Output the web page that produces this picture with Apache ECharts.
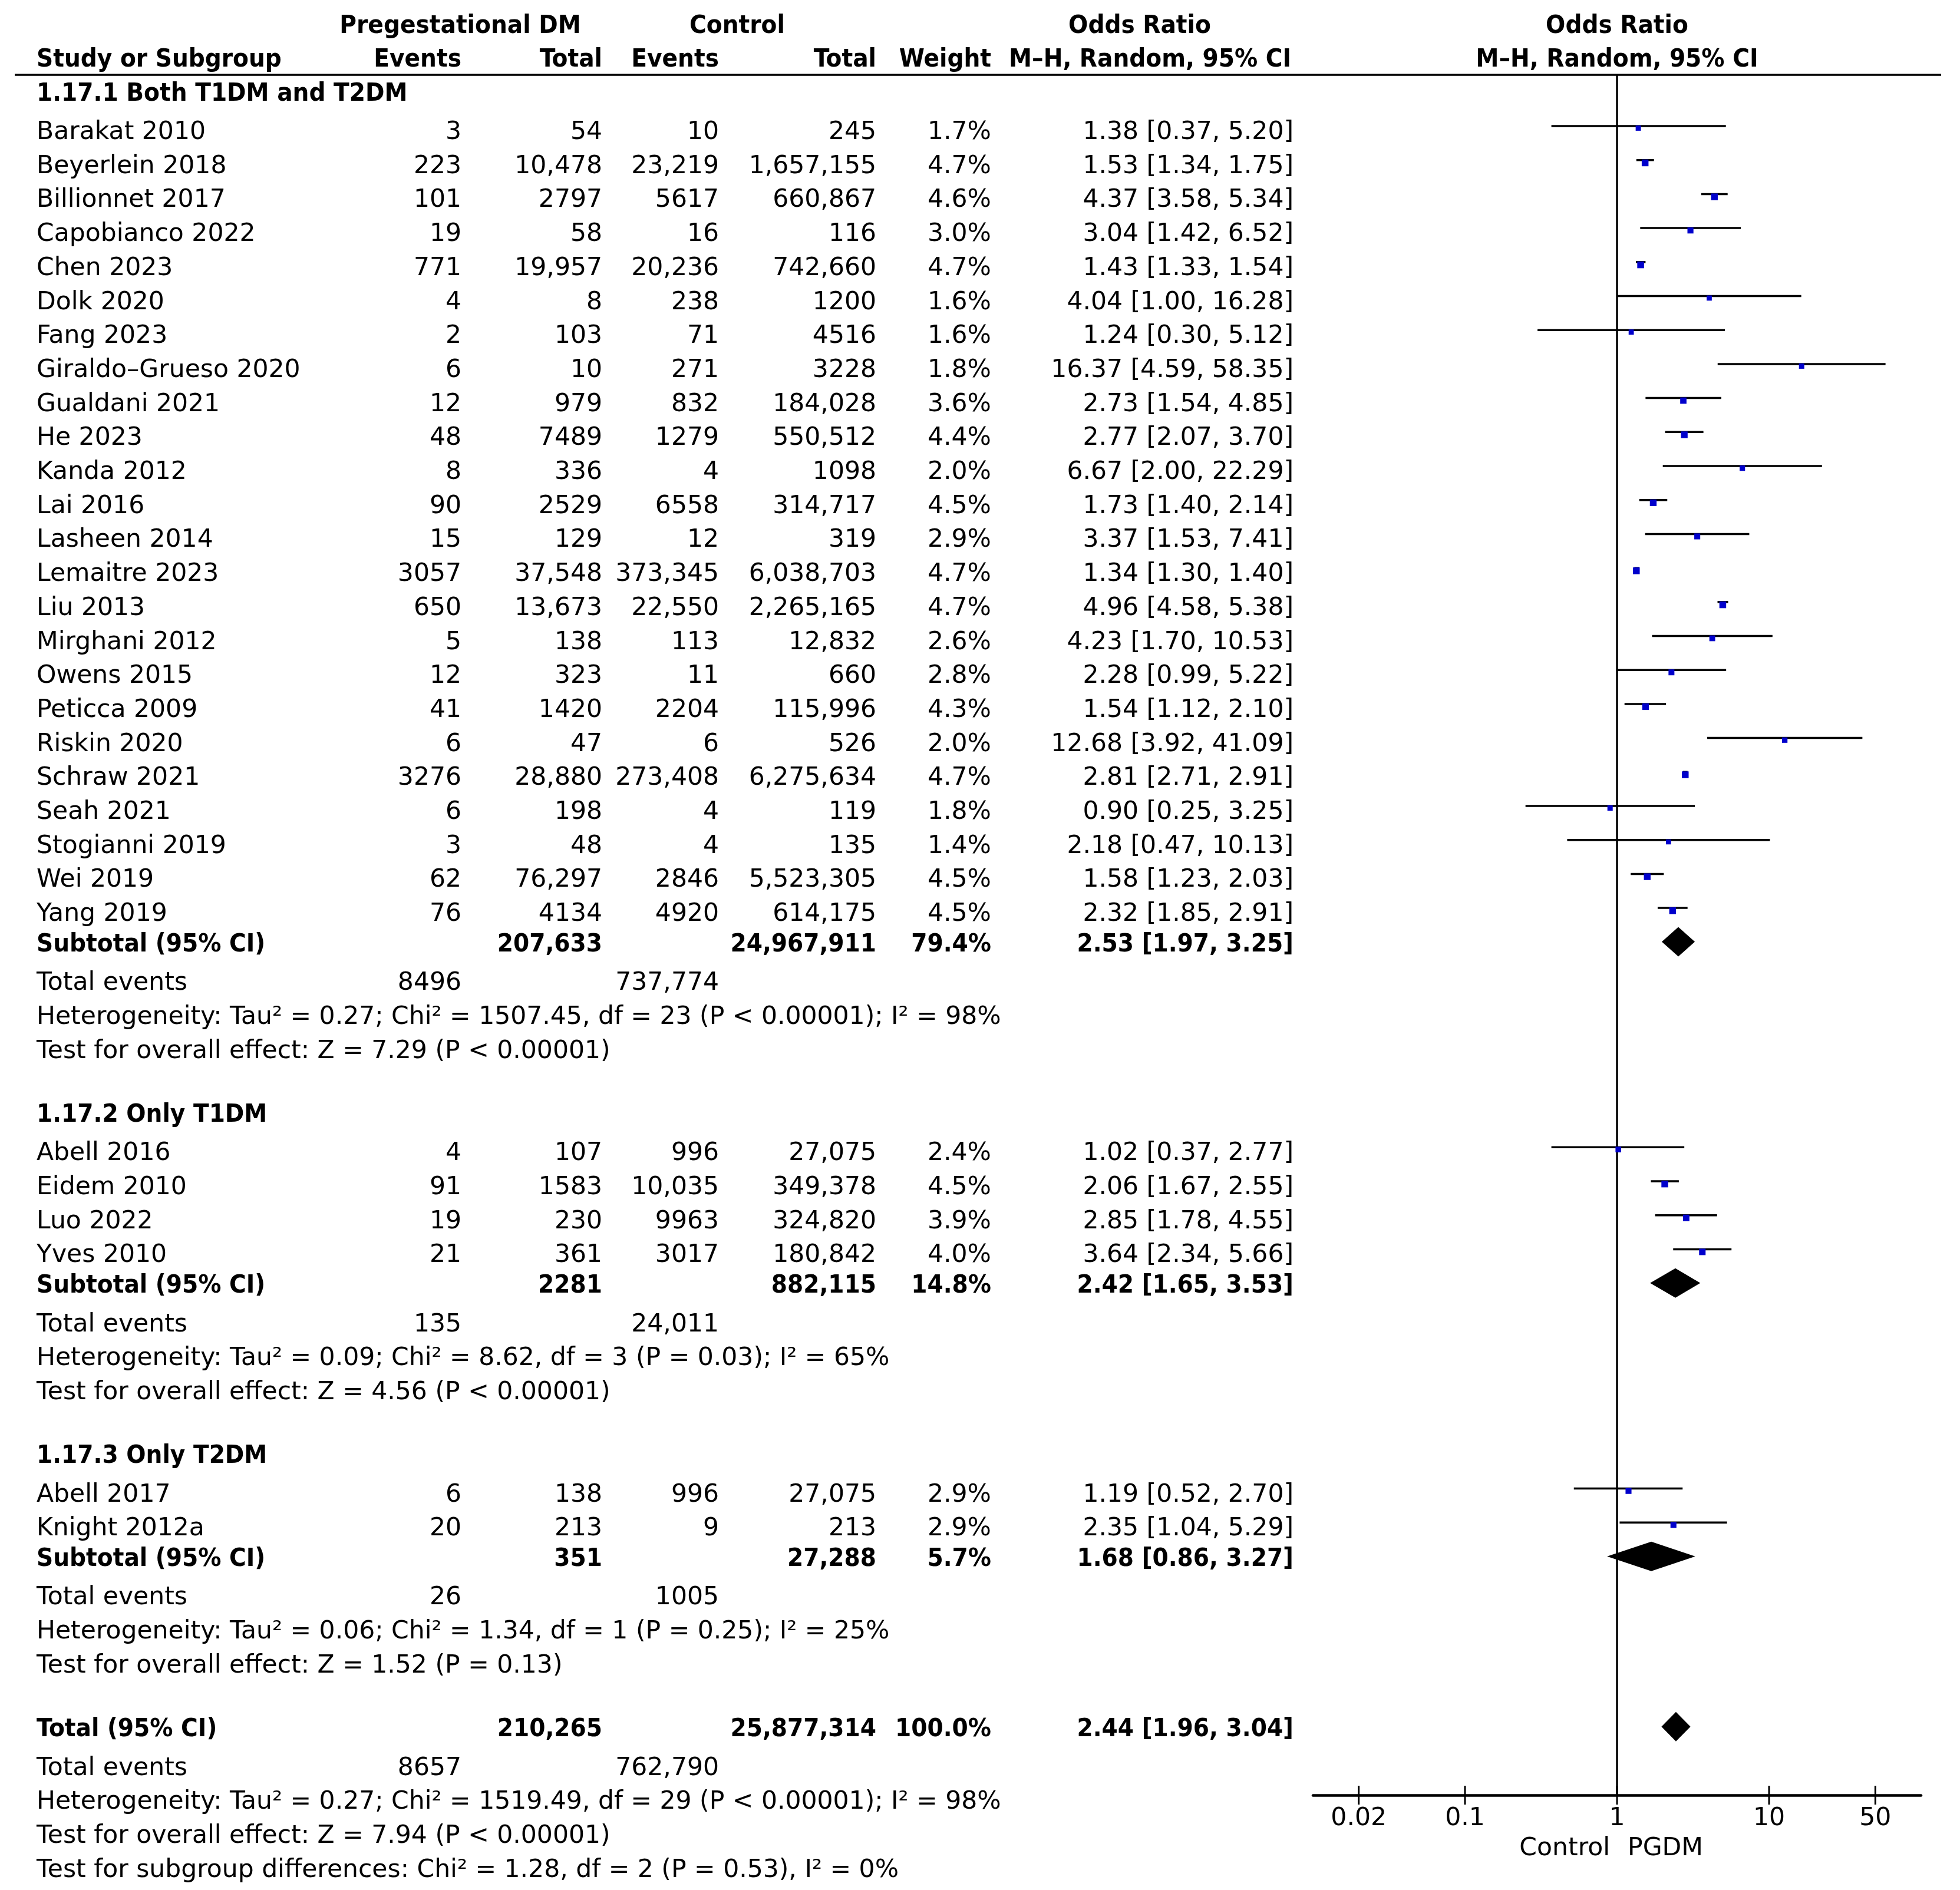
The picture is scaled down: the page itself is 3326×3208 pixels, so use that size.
<!DOCTYPE html>
<html><head><meta charset="utf-8">
<script src="https://cdn.jsdelivr.net/npm/echarts@6/dist/echarts.min.js"></script>
<style>html,body{margin:0;padding:0;background:#fff}#c{width:3326px;height:3208px}</style>
</head><body><div id="c"></div>
<script>
// ---------------- DATA ----------------
const groupTitles = ['1.17.1 Both T1DM and T2DM', '1.17.2 Only T1DM', '1.17.3 Only T2DM'];

const g1Names = ['Barakat 2010','Beyerlein 2018','Billionnet 2017','Capobianco 2022','Chen 2023','Dolk 2020','Fang 2023','Giraldo\u2013Grueso 2020','Gualdani 2021','He 2023','Kanda 2012','Lai 2016','Lasheen 2014','Lemaitre 2023','Liu 2013','Mirghani 2012','Owens 2015','Peticca 2009','Riskin 2020','Schraw 2021','Seah 2021','Stogianni 2019','Wei 2019','Yang 2019'];
const g1PgEvents = [3,223,101,19,771,4,2,6,12,48,8,90,15,3057,650,5,12,41,6,3276,6,3,62,76];
const g1PgTotal = [54,10478,2797,58,19957,8,103,10,979,7489,336,2529,129,37548,13673,138,323,1420,47,28880,198,48,76297,4134];
const g1CtEvents = [10,23219,5617,16,20236,238,71,271,832,1279,4,6558,12,373345,22550,113,11,2204,6,273408,4,4,2846,4920];
const g1CtTotal = [245,1657155,660867,116,742660,1200,4516,3228,184028,550512,1098,314717,319,6038703,2265165,12832,660,115996,526,6275634,119,135,5523305,614175];
const g1Weight = [1.7,4.7,4.6,3.0,4.7,1.6,1.6,1.8,3.6,4.4,2.0,4.5,2.9,4.7,4.7,2.6,2.8,4.3,2.0,4.7,1.8,1.4,4.5,4.5];
const g1OR = [1.38,1.53,4.37,3.04,1.43,4.04,1.24,16.37,2.73,2.77,6.67,1.73,3.37,1.34,4.96,4.23,2.28,1.54,12.68,2.81,0.90,2.18,1.58,2.32];
const g1Lo = [0.37,1.34,3.58,1.42,1.33,1.00,0.30,4.59,1.54,2.07,2.00,1.40,1.53,1.30,4.58,1.70,0.99,1.12,3.92,2.71,0.25,0.47,1.23,1.85];
const g1Hi = [5.20,1.75,5.34,6.52,1.54,16.28,5.12,58.35,4.85,3.70,22.29,2.14,7.41,1.40,5.38,10.53,5.22,2.10,41.09,2.91,3.25,10.13,2.03,2.91];

const g2Names = ['Abell 2016','Eidem 2010','Luo 2022','Yves 2010'];
const g2PgEvents = [4,91,19,21];
const g2PgTotal = [107,1583,230,361];
const g2CtEvents = [996,10035,9963,3017];
const g2CtTotal = [27075,349378,324820,180842];
const g2Weight = [2.4,4.5,3.9,4.0];
const g2OR = [1.02,2.06,2.85,3.64];
const g2Lo = [0.37,1.67,1.78,2.34];
const g2Hi = [2.77,2.55,4.55,5.66];

const g3Names = ['Abell 2017','Knight 2012a'];
const g3PgEvents = [6,20];
const g3PgTotal = [138,213];
const g3CtEvents = [996,9];
const g3CtTotal = [27075,213];
const g3Weight = [2.9,2.9];
const g3OR = [1.19,2.35];
const g3Lo = [0.52,1.04];
const g3Hi = [2.70,5.29];

const subPgTotal = [207633, 2281, 351];
const subCtTotal = [24967911, 882115, 27288];
const subWeight = [79.4, 14.8, 5.7];
const subOR = [2.53, 2.42, 1.68];
const subLo = [1.97, 1.65, 0.86];
const subHi = [3.25, 3.53, 3.27];
const subPgEvents = [8496, 135, 26];
const subCtEvents = [737774, 24011, 1005];
const subHet = [
  'Heterogeneity: Tau\u00b2 = 0.27; Chi\u00b2 = 1507.45, df = 23 (P < 0.00001); I\u00b2 = 98%',
  'Heterogeneity: Tau\u00b2 = 0.09; Chi\u00b2 = 8.62, df = 3 (P = 0.03); I\u00b2 = 65%',
  'Heterogeneity: Tau\u00b2 = 0.06; Chi\u00b2 = 1.34, df = 1 (P = 0.25); I\u00b2 = 25%'
];
const subTest = [
  'Test for overall effect: Z = 7.29 (P < 0.00001)',
  'Test for overall effect: Z = 4.56 (P < 0.00001)',
  'Test for overall effect: Z = 1.52 (P = 0.13)'
];

const totalPgTotal = 210265, totalCtTotal = 25877314, totalWeight = 100.0;
const totalOR = 2.44, totalLo = 1.96, totalHi = 3.04;
const totalPgEvents = 8657, totalCtEvents = 762790;
const totalHet = 'Heterogeneity: Tau\u00b2 = 0.27; Chi\u00b2 = 1519.49, df = 29 (P < 0.00001); I\u00b2 = 98%';
const totalTest = 'Test for overall effect: Z = 7.94 (P < 0.00001)';
const subgroupTest = 'Test for subgroup differences: Chi\u00b2 = 1.28, df = 2 (P = 0.53), I\u00b2 = 0%';

const axisTickValues = [0.02, 0.1, 1, 10, 50];
const axisLeftLabel = 'Control';
const axisRightLabel = 'PGDM';

// ---------------- LAYOUT ----------------
const FONT = '"DejaVu Sans", sans-serif';
const FONT_BOLD = '"DejaVu Sans Condensed", "DejaVu Sans", sans-serif';
const FS = 42.5, FS_BOLD = 43.5;
const TEXT_DY = 5;
const ROW0_PX = 220, LINE_PX = 57.7, TOP_PX = 127, AXIS_PX = 3047;
const Y_MIN = (TOP_PX - ROW0_PX) / LINE_PX, Y_MAX = (AXIS_PX - ROW0_PX) / LINE_PX;
const COL = {name: 62, pgEv: 783, pgTot: 1022, ctEv: 1220, ctTot: 1487, wt: 1682, or: 2195};

const groups = [
  {names:g1Names, pe:g1PgEvents, pt:g1PgTotal, ce:g1CtEvents, ct:g1CtTotal, w:g1Weight, or:g1OR, lo:g1Lo, hi:g1Hi},
  {names:g2Names, pe:g2PgEvents, pt:g2PgTotal, ce:g2CtEvents, ct:g2CtTotal, w:g2Weight, or:g2OR, lo:g2Lo, hi:g2Hi},
  {names:g3Names, pe:g3PgEvents, pt:g3PgTotal, ce:g3CtEvents, ct:g3CtTotal, w:g3Weight, or:g3OR, lo:g3Lo, hi:g3Hi}
];

const fmtN = n => n >= 10000 ? n.toLocaleString('en-US') : String(n);
const fmtOR = (o, l, h) => o.toFixed(2) + ' [' + l.toFixed(2) + ', ' + h.toFixed(2) + ']';
const fmtW = w => w.toFixed(1) + '%';

const rows = [];
rows.push({kind:'header1', y:-3.125});
rows.push({kind:'header2', y:-2.13});
rows.push({kind:'hline', y:Y_MIN});
const studyData = [], diamondData = [];
let cur = -1.14;
groups.forEach((g, gi) => {
  if (gi > 0) cur += 1.87;
  rows.push({kind:'title', y:cur, text:groupTitles[gi]});
  cur += 1.14;
  g.names.forEach((n, i) => {
    if (i > 0) cur += 1;
    rows.push({kind:'study', y:cur, name:n, pe:g.pe[i], pt:g.pt[i], ce:g.ce[i], ct:g.ct[i], w:g.w[i], or:g.or[i], lo:g.lo[i], hi:g.hi[i]});
    studyData.push([g.lo[i], g.hi[i], g.or[i], cur, g.w[i]]);
  });
  cur += 0.89;
  rows.push({kind:'subtotal', y:cur, label:'Subtotal (95% CI)', pt:subPgTotal[gi], ct:subCtTotal[gi], w:subWeight[gi], or:subOR[gi], lo:subLo[gi], hi:subHi[gi]});
  diamondData.push([subLo[gi], subHi[gi], subOR[gi], cur]);
  cur += 1.14;
  rows.push({kind:'events', y:cur, pe:subPgEvents[gi], ce:subCtEvents[gi]});
  cur += 1; rows.push({kind:'note', y:cur, text:subHet[gi]});
  cur += 1; rows.push({kind:'note', y:cur, text:subTest[gi]});
});
cur += 1.87;
rows.push({kind:'subtotal', y:cur, label:'Total (95% CI)', pt:totalPgTotal, ct:totalCtTotal, w:totalWeight, or:totalOR, lo:totalLo, hi:totalHi});
diamondData.push([totalLo, totalHi, totalOR, cur]);
cur += 1.14; rows.push({kind:'events', y:cur, pe:totalPgEvents, ce:totalCtEvents});
cur += 1; rows.push({kind:'note', y:cur, text:totalHet});
cur += 1; rows.push({kind:'note', y:cur, text:totalTest});
cur += 1; rows.push({kind:'note', y:cur, text:subgroupTest});

function T(x, y, text, align, bold) {
  return {type:'text', x:x, y:y + TEXT_DY, style:{text:text, fill:'#000',
    fontSize: bold ? FS_BOLD : FS, fontFamily: bold ? FONT_BOLD : FONT,
    fontWeight: bold ? 'bold' : 'normal', align:align, verticalAlign:'middle'}};
}

function renderTable(params, api) {
  const r = rows[params.dataIndex];
  const p = api.coord([1, r.y]);
  const y = p[1];
  const c = [];
  switch (r.kind) {
    case 'header1':
      c.push(T(781, y, 'Pregestational DM', 'center', true));
      c.push(T(1251, y, 'Control', 'center', true));
      c.push(T(1934, y, 'Odds Ratio', 'center', true));
      c.push(T(p[0], y, 'Odds Ratio', 'center', true));
      break;
    case 'header2':
      c.push(T(COL.name, y, 'Study or Subgroup', 'left', true));
      c.push(T(COL.pgEv, y, 'Events', 'right', true));
      c.push(T(COL.pgTot, y, 'Total', 'right', true));
      c.push(T(COL.ctEv, y, 'Events', 'right', true));
      c.push(T(COL.ctTot, y, 'Total', 'right', true));
      c.push(T(COL.wt, y, 'Weight', 'right', true));
      c.push(T(COL.or - 4, y, 'M\u2013H, Random, 95% CI', 'right', true));
      c.push(T(p[0], y, 'M\u2013H, Random, 95% CI', 'center', true));
      break;
    case 'hline':
      c.push({type:'line', shape:{x1:25, y1:y, x2:3294, y2:y}, style:{stroke:'#000', lineWidth:3.5}});
      break;
    case 'title':
      c.push(T(COL.name, y, r.text, 'left', true));
      break;
    case 'study':
      c.push(T(COL.name, y, r.name, 'left', false));
      c.push(T(COL.pgEv, y, fmtN(r.pe), 'right', false));
      c.push(T(COL.pgTot, y, fmtN(r.pt), 'right', false));
      c.push(T(COL.ctEv, y, fmtN(r.ce), 'right', false));
      c.push(T(COL.ctTot, y, fmtN(r.ct), 'right', false));
      c.push(T(COL.wt, y, fmtW(r.w), 'right', false));
      c.push(T(COL.or, y, fmtOR(r.or, r.lo, r.hi), 'right', false));
      break;
    case 'subtotal':
      c.push(T(COL.name, y, r.label, 'left', true));
      c.push(T(COL.pgTot, y, fmtN(r.pt), 'right', true));
      c.push(T(COL.ctTot, y, fmtN(r.ct), 'right', true));
      c.push(T(COL.wt, y, fmtW(r.w), 'right', true));
      c.push(T(COL.or, y, fmtOR(r.or, r.lo, r.hi), 'right', true));
      break;
    case 'events':
      c.push(T(COL.name, y, 'Total events', 'left', false));
      c.push(T(COL.pgEv, y, fmtN(r.pe), 'right', false));
      c.push(T(COL.ctEv, y, fmtN(r.ce), 'right', false));
      break;
    case 'note':
      c.push(T(COL.name, y, r.text, 'left', false));
      break;
  }
  return {type:'group', children:c};
}

function renderStudy(params, api) {
  const lo = api.value(0), hi = api.value(1), or = api.value(2), yv = api.value(3), w = api.value(4);
  const p1 = api.coord([lo, yv]), p2 = api.coord([hi, yv]), pc = api.coord([or, yv]);
  const ly = p1[1] - 6;
  const s = 5 + 3 * Math.sqrt(w);
  return {type:'group', children:[
    {type:'line', shape:{x1:p1[0], y1:ly, x2:p2[0], y2:ly}, style:{stroke:'#000', lineWidth:3.5}},
    {type:'rect', shape:{x:pc[0] - s / 2, y:ly - 1, width:s, height:s}, style:{fill:'#0000cc'}}
  ]};
}

function renderDiamond(params, api) {
  const lo = api.value(0), hi = api.value(1), or = api.value(2), yv = api.value(3);
  const p1 = api.coord([lo, yv]), p2 = api.coord([hi, yv]), pc = api.coord([or, yv]);
  const h = 25;
  return {type:'polygon', shape:{points:[[p1[0], pc[1]], [pc[0], pc[1] - h], [p2[0], pc[1]], [pc[0], pc[1] + h]]},
    style:{fill:'#000'}};
}

function renderTick(params, api) {
  const p = api.coord([api.value(0), Y_MAX]);
  return {type:'line', shape:{x1:p[0], y1:p[1] - 16, x2:p[0], y2:p[1] + 16}, style:{stroke:'#000', lineWidth:3}};
}

function renderRefLine(params, api) {
  const a = api.coord([1, Y_MIN]), b = api.coord([1, Y_MAX]);
  const yl = b[1] + 86;
  return {type:'group', children:[
    {type:'line', shape:{x1:a[0], y1:a[1], x2:b[0], y2:b[1]}, style:{stroke:'#000', lineWidth:3.5}},
    T(a[0] - 12, yl, axisLeftLabel, 'right', false),
    T(a[0] + 18, yl, axisRightLabel, 'left', false)
  ]};
}

const chart = echarts.init(document.getElementById('c'), null, {renderer:'canvas'});
chart.setOption({
  animation: false,
  backgroundColor: '#fff',
  grid: {left: 2228, right: 66, top: TOP_PX, bottom: 3208 - AXIS_PX},
  xAxis: {
    type: 'log', logBase: 10, min: 0.01, max: 100, position: 'bottom',
    axisLine: {show: true, onZero: false, lineStyle: {color: '#000', width: 4.5}},
    axisTick: {show: false},
    splitLine: {show: false},
    axisLabel: {customValues: axisTickValues, formatter: v => String(v), fontSize: FS, fontFamily: FONT, color: '#000', margin: 18}
  },
  yAxis: {type: 'value', inverse: true, min: Y_MIN, max: Y_MAX, show: false},
  series: [
    {type:'custom', name:'table', renderItem: renderTable, data: rows.map(r => [1, r.y]), encode:{x:0, y:1}, clip:false, silent:true, z:5},
    {type:'custom', name:'ref', renderItem: renderRefLine, data: [[1, 0]], encode:{x:0, y:1}, clip:false, silent:true, z:2},
    {type:'custom', name:'ticks', renderItem: renderTick, data: axisTickValues.map(v => [v, Y_MAX]), encode:{x:0, y:1}, clip:false, silent:true, z:3},
    {type:'custom', name:'studies', renderItem: renderStudy, data: studyData, encode:{x:[0,1,2], y:3}, clip:false, silent:true, z:4},
    {type:'custom', name:'diamonds', renderItem: renderDiamond, data: diamondData, encode:{x:[0,1,2], y:3}, clip:false, silent:true, z:4}
  ]
});
</script></body></html>
